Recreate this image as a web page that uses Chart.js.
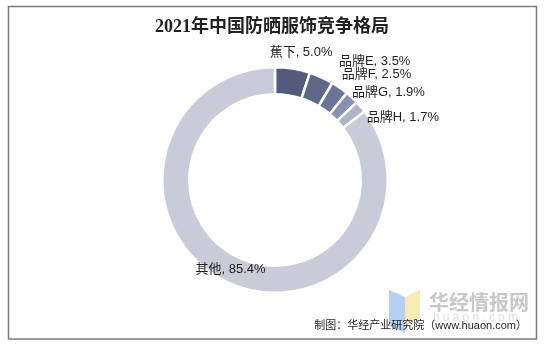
<!DOCTYPE html>
<html>
<head>
<meta charset="utf-8">
<script src="https://cdn.jsdelivr.net/npm/chart.js@4/dist/chart.umd.min.js"></script>
<style>
  html, body { margin: 0; padding: 0; background: #fff; }
  #wrap { width: 546px; height: 347px; position: relative; }
</style>
</head>
<body>
<div id="wrap"><canvas id="c" width="546" height="347"></canvas></div>
<script>
// Chart content
const titleText = '2021年中国防晒服饰竞争格局';
const brands = ['蕉下', '品牌E', '品牌F', '品牌G', '品牌H', '其他'];
const shares = [5.0, 3.5, 2.5, 1.9, 1.7, 85.4];
const sourceText = '制图：华经产业研究院（www.huaon.com）';
const brandMark = '华经情报网';
const brandSite = 'huaon.com';

// Styling
const sliceColors = ['#535a7c', '#5f6789', '#6b7397', '#8a90af', '#b0b4c9', '#c9ccd8'];
// label offset (dx, dy) from the outer edge point at each slice's mid angle
const labelOffsets = [[-23, -16], [17.5, -16], [2, -13.6], [0, -5], [6, 10.4], [-29.5, -11.6]];
const latinCjk = '"Liberation Sans", Arial, "Noto Sans CJK SC", sans-serif';

const framePlugin = {
  id: 'frame',
  beforeDraw(chart) {
    const ctx = chart.ctx;
    ctx.save();
    ctx.fillStyle = '#ffffff';
    ctx.fillRect(0, 0, chart.width, chart.height);
    ctx.strokeStyle = '#7c7c7c';
    ctx.lineWidth = 1.5;
    ctx.strokeRect(8.5, 6.5, 528, 332.5);

    // title
    ctx.fillStyle = '#222222';
    ctx.font = 'bold 18px "Liberation Serif", "Noto Sans CJK SC", serif';
    ctx.textAlign = 'center';
    ctx.textBaseline = 'middle';
    ctx.fillText(titleText, 272, 27);

    // watermark logo
    ctx.globalAlpha = 0.85;
    ctx.fillStyle = '#a9c8f2';
    ctx.beginPath();
    ctx.moveTo(389, 290); ctx.lineTo(405, 297); ctx.lineTo(405, 333); ctx.lineTo(389, 326);
    ctx.closePath(); ctx.fill();
    ctx.fillStyle = '#f6e7a8';
    ctx.beginPath();
    ctx.moveTo(405, 297); ctx.lineTo(420, 290); ctx.lineTo(420, 318); ctx.lineTo(405, 325);
    ctx.closePath(); ctx.fill();
    ctx.globalAlpha = 1;

    ctx.textAlign = 'left';
    ctx.fillStyle = '#c8c8c8';
    ctx.font = 'bold 20px "Noto Sans CJK SC", sans-serif';
    ctx.fillText(brandMark, 429, 302);
    ctx.fillStyle = '#dddddd';
    ctx.font = '12px ' + latinCjk;
    let x = 433;
    for (const ch of brandSite) {
      ctx.fillText(ch, x, 318);
      x += ctx.measureText(ch).width + 3.2;
    }
    ctx.restore();
  },
  afterDatasetsDraw(chart) {
    const ctx = chart.ctx;
    const meta = chart.getDatasetMeta(0);
    ctx.save();
    ctx.fillStyle = '#1e1e1e';
    ctx.font = '13px ' + latinCjk;
    ctx.textAlign = 'left';
    ctx.textBaseline = 'middle';
    meta.data.forEach((arc, i) => {
      const p = arc.getProps(['x', 'y', 'startAngle', 'endAngle', 'outerRadius'], true);
      const mid = (p.startAngle + p.endAngle) / 2;
      const ax = p.x + Math.cos(mid) * p.outerRadius;
      const ay = p.y + Math.sin(mid) * p.outerRadius;
      const txt = brands[i] + ', ' + shares[i].toFixed(1) + '%';
      ctx.fillText(txt, ax + labelOffsets[i][0], ay + labelOffsets[i][1]);
    });

    // source line
    ctx.textAlign = 'right';
    ctx.font = '11px ' + latinCjk;
    ctx.fillStyle = '#1e1e1e';
    ctx.fillText(sourceText, 527, 326);
    ctx.restore();
  }
};

new Chart(document.getElementById('c'), {
  type: 'doughnut',
  data: {
    labels: brands,
    datasets: [{
      data: shares,
      backgroundColor: sliceColors,
      borderColor: '#ffffff',
      borderWidth: 2.5,
      hoverOffset: 0
    }]
  },
  options: {
    responsive: false,
    animation: false,
    devicePixelRatio: 1,
    cutout: '76%',
    layout: { padding: { top: 66, bottom: 53, left: 161, right: 157 } },
    plugins: {
      legend: { display: false },
      tooltip: { enabled: false },
      title: { display: false }
    }
  },
  plugins: [framePlugin]
});
</script>
</body>
</html>
